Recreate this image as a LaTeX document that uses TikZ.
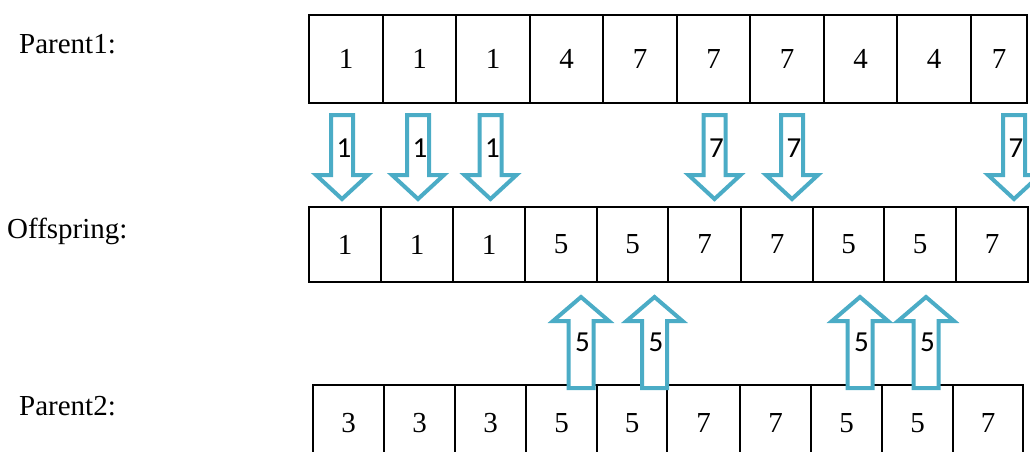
\documentclass[tikz,border=0pt]{standalone}
\usepackage{fontspec}
\setmainfont{Liberation Serif}
\newfontfamily\lblfont{Carlito}
\definecolor{arrowblue}{HTML}{4BACC6}
\tikzset{
  cell/.style={draw=black, line width=1.5pt, inner sep=0pt, font=\fontsize{29}{34}\selectfont},
  rowname/.style={anchor=base west, inner sep=0pt, font=\fontsize{29}{34}\selectfont},
  blockarrow/.style={draw=arrowblue, fill=white, line width=4pt, line join=miter},
  lbl/.style={inner sep=0pt, font=\lblfont\fontsize{29}{34}\selectfont},
}
\begin{document}
\begin{tikzpicture}[x=1pt, y=-1pt]
\useasboundingbox (0,0) rectangle (1030,452);
\clip (0,0) rectangle (1030,452);
% row labels
\node[rowname] (n1) at (19,53) {Parent1:};
\node[rowname] (n2) at (7,238) {Offspring:};
\node[rowname] (n3) at (19,415) {Parent2:};
% Parent1 cells
\foreach \i/\a/\b/\v in {1/309/383/1, 2/383/456/1, 3/456/530/1, 4/530/603/4, 5/603/677/7, 6/677/750/7, 7/750/824/7, 8/824/897/4, 9/897/971/4, 10/971/1027/7}{
  \pgfmathsetmacro\c{(\a+\b)/2}
  \pgfmathsetmacro\w{\b-\a}
  \node[cell, minimum width=\w pt, minimum height=88pt] (pa\i) at (\c,59) {\v};
}
% Offspring cells
\foreach \i/\a/\b/\v in {1/309/381/1, 2/381/453/1, 3/453/525/1, 4/525/597/5, 5/597/668/5, 6/668/741/7, 7/741/813/7, 8/813/884/5, 9/884/956/5, 10/956/1028/7}{
  \pgfmathsetmacro\c{(\a+\b)/2}
  \pgfmathsetmacro\w{\b-\a}
  \node[cell, minimum width=\w pt, minimum height=75pt] (of\i) at (\c,244.5) {\v};
}
% Parent2 cells
\foreach \i/\a/\b/\v in {1/313/384/3, 2/384/455/3, 3/455/526/3, 4/526/597/5, 5/597/667/5, 6/667/740/7, 7/740/811/7, 8/811/882/5, 9/882/953/5, 10/953/1023/7}{
  \pgfmathsetmacro\c{(\a+\b)/2}
  \pgfmathsetmacro\w{\b-\a}
  \node[cell, minimum width=\w pt, minimum height=76pt] (pb\i) at (\c,423) {\v};
}
% down arrows from Parent1
\foreach \i/\cx/\v in {1/342/1, 2/418/1, 3/490.5/1, 4/714.5/7, 5/792/7, 6/1014/7}{
  \draw[blockarrow] (\cx-11,115) -- (\cx+11,115) -- (\cx+11,175) -- (\cx+26,175)
     -- (\cx,199) -- (\cx-26,175) -- (\cx-11,175) -- cycle;
  \node[lbl] (d\i) at (\cx+2,148) {\v};
}
% up arrows from Parent2
\foreach \i/\cx/\v in {1/581/5, 2/654.5/5, 3/860/5, 4/926/5}{
  \draw[blockarrow] (\cx-12.5,388) -- (\cx+12.5,388) -- (\cx+12.5,321) -- (\cx+28,321)
     -- (\cx,297) -- (\cx-28,321) -- (\cx-12.5,321) -- cycle;
  \node[lbl] (u\i) at (\cx+1.5,342) {\v};
}
\end{tikzpicture}
\end{document}
